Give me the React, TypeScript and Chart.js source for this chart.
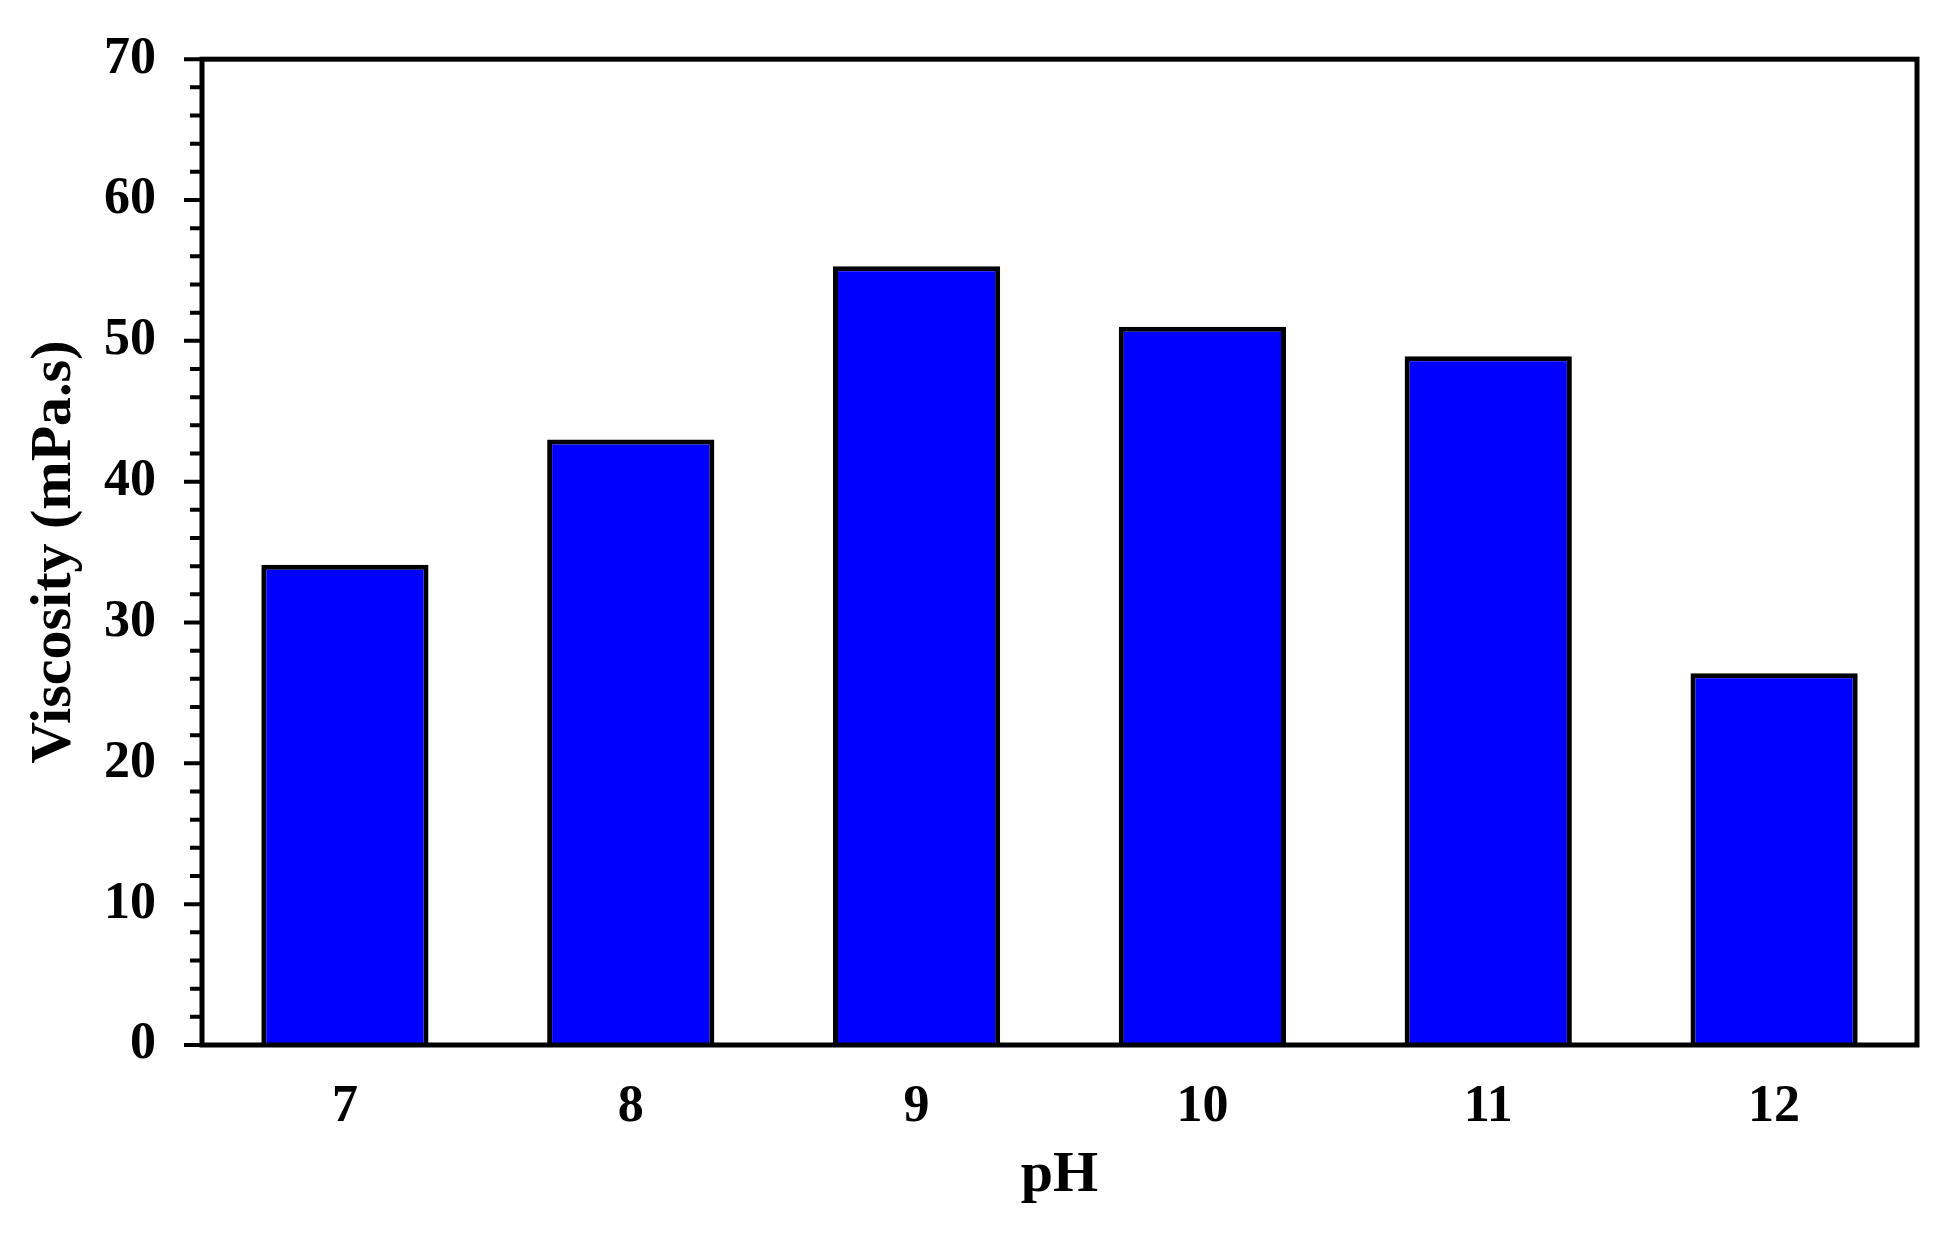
import { useEffect, useRef } from "react";
import { Chart, registerables } from "chart.js";

Chart.register(...registerables);

// pH values on the x axis
const phLabels = ["7", "8", "9", "10", "11", "12"];
// viscosity in mPa.s
const viscosity = [34.1, 43.0, 55.3, 51.0, 48.9, 26.4];
// y axis range and tick steps
const yMin = 0;
const yMax = 70;
const yMajorStep = 10;
const yMinorStep = 2;

const FONT = "'Liberation Serif', 'Times New Roman', serif";

// full black frame around the plot + outward major/minor ticks on the y axis
const frameAndTicks = {
  id: "frameAndTicks",
  afterDraw(chart: any) {
    const { ctx, chartArea } = chart;
    const y = chart.scales.y;
    ctx.save();
    ctx.strokeStyle = "#000";
    ctx.lineWidth = 4;
    ctx.beginPath();
    y.ticks.forEach((t: any) => {
      const py = y.getPixelForValue(t.value);
      const len = t.value % yMajorStep === 0 ? 18 : 12;
      ctx.moveTo(chartArea.left - len, py);
      ctx.lineTo(chartArea.left, py);
    });
    ctx.stroke();
    ctx.lineWidth = 5;
    ctx.strokeRect(
      chartArea.left,
      chartArea.top,
      chartArea.right - chartArea.left,
      chartArea.bottom - chartArea.top
    );
    ctx.restore();
  },
};

export default function App() {
  const canvasRef = useRef<HTMLCanvasElement>(null);

  useEffect(() => {
    if (!canvasRef.current) return;
    const chart = new Chart(canvasRef.current, {
      type: "bar",
      data: {
        labels: phLabels,
        datasets: [
          {
            label: "Viscosity",
            data: viscosity,
            backgroundColor: "#0000ff",
            borderColor: "#000",
            borderWidth: 5,
            barPercentage: 0.585,
            categoryPercentage: 1,
          },
        ],
      },
      options: {
        animation: false,
        responsive: true,
        maintainAspectRatio: false,
        layout: { padding: { top: 56, right: 34, bottom: 0, left: 0 } },
        plugins: {
          legend: { display: false },
          tooltip: { enabled: false },
        },
        scales: {
          x: {
            grid: { display: false, drawTicks: false },
            border: { display: false },
            ticks: {
              color: "#000",
              padding: 31,
              font: { family: FONT, size: 52, weight: "bold" },
            },
            title: {
              display: true,
              text: "pH",
              color: "#000",
              padding: { top: 0, bottom: 30 },
              font: { family: FONT, size: 58, weight: "bold" },
            },
            afterFit: (scale: any) => {
              scale.height = 196;
            },
          },
          y: {
            min: yMin,
            max: yMax,
            grid: {
              display: true,
              drawOnChartArea: false,
              drawTicks: true,
              tickLength: 18,
              tickColor: "rgba(0,0,0,0)",
            },
            border: { display: false },
            ticks: {
              stepSize: yMinorStep,
              color: "#000",
              padding: 28,
              autoSkip: false,
              font: { family: FONT, size: 52, weight: "bold" },
              callback: (v: any) => (Number(v) % yMajorStep === 0 ? String(v) : ""),
            },
            title: {
              display: true,
              text: "Viscosity (mPa.s)",
              color: "#000",
              padding: { top: 20, bottom: 0 },
              font: { family: FONT, size: 58, weight: "bold" },
            },
            afterFit: (scale: any) => {
              scale.width = 202;
            },
          },
        },
      },
      plugins: [frameAndTicks],
    });
    return () => chart.destroy();
  }, []);

  return (
    <div
      style={{
        position: "absolute",
        left: 0,
        top: 0,
        width: 1951,
        height: 1241,
        background: "#fff",
      }}
    >
      <canvas ref={canvasRef} />
    </div>
  );
}
